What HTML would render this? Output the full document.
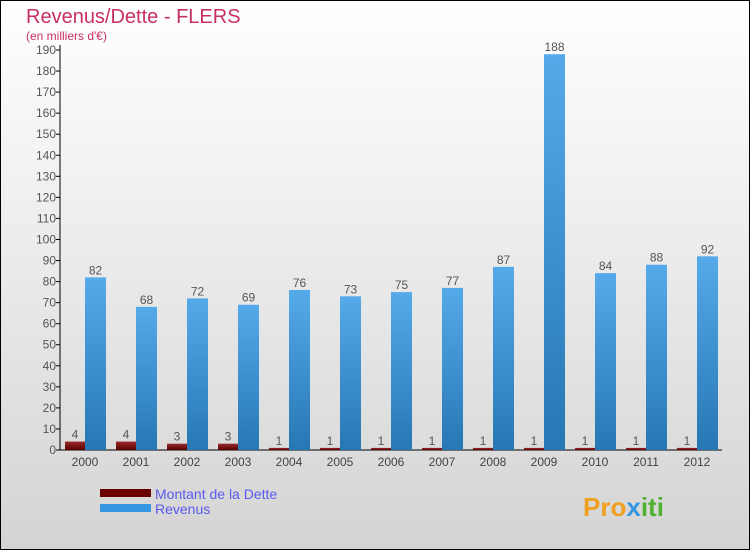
<!DOCTYPE html>
<html><head><meta charset="utf-8"><style>
body{margin:0;}
#chart{position:relative;width:750px;height:550px;}
text{font-family:"Liberation Sans",sans-serif;}
</style></head><body>
<div id="chart">
<svg id="svg" width="750" height="550" xmlns="http://www.w3.org/2000/svg">
<defs>
<linearGradient id="bg" x1="0" y1="0" x2="0" y2="1"><stop offset="0" stop-color="#ffffff"/><stop offset="1" stop-color="#d4d4d4"/></linearGradient>
<linearGradient id="gb" x1="0" y1="0" x2="0" y2="1"><stop offset="0" stop-color="#55aaea"/><stop offset="1" stop-color="#2677b4"/></linearGradient>
<linearGradient id="gr" x1="0" y1="0" x2="0" y2="1"><stop offset="0" stop-color="#9a2a2a"/><stop offset="1" stop-color="#5a0000"/></linearGradient>
</defs>
<rect x="0.5" y="0.5" width="749" height="549" fill="url(#bg)" stroke="#000" stroke-width="1"/>
<text x="26" y="23" font-size="20" fill="#c8305f">Revenus/Dette - FLERS</text>
<text x="26" y="40" font-size="12" fill="#c8305f">(en milliers d'€)</text>
<g id="axes"></g>
<g id="bars"></g>
<rect x="100" y="489" width="51" height="8" fill="#6a0000"/>
<text x="155" y="499" font-size="14" fill="#5a5af0">Montant de la Dette</text>
<rect x="100" y="504" width="51" height="8" fill="#3497e0"/>
<text x="155" y="514" font-size="14" fill="#5a5af0">Revenus</text>
<text x="583" y="516" font-size="26" font-weight="bold" fill="#f0a020">Pro<tspan fill="#3497e0">x</tspan><tspan fill="#50b030">iti</tspan></text>
</svg>
</div>
<script>
const categories=["2000","2001","2002","2003","2004","2005","2006","2007","2008","2009","2010","2011","2012"];
const dette=[4,4,3,3,1,1,1,1,1,1,1,1,1];
const revenus=[82,68,72,69,76,73,75,77,87,188,84,88,92];
const yTicks=[0,10,20,30,40,50,60,70,80,90,100,110,120,130,140,150,160,170,180,190];
const NS="http://www.w3.org/2000/svg";
const y0=450,yTop=50,yMax=190,x0=60,step=51,first=85;
const y=v=>y0-(v/yMax)*(y0-yTop);
const xc=i=>first+i*step;
function mk(t,a,p){const e=document.createElementNS(NS,t);for(const k in a)e.setAttribute(k,a[k]);p.appendChild(e);return e;}
const ax=document.getElementById('axes'),bs=document.getElementById('bars');
const yl=mk('line',{x1:x0,y1:yTop-5,x2:x0,y2:y0,stroke:'#000'},ax);


const xl=mk('line',{x1:x0,y1:y0,x2:722,y2:y0,stroke:'#000'},ax);


yTicks.forEach(v=>{
 mk('line',{x1:x0-4,y1:y(v),x2:x0,y2:y(v),stroke:'#000'},ax);
 const t=mk('text',{x:x0-4,y:y(v)+4,'text-anchor':'end','font-size':12,fill:'#555'},ax);t.textContent=v;
 
 
});
categories.forEach((c,i)=>{
 const cx=xc(i);
 const t=mk('text',{x:cx,y:466,'text-anchor':'middle','font-size':12,fill:'#444'},ax);t.textContent=c;
 
 
 const b1=mk('rect',{x:cx-20,y:y(dette[i]),width:20,height:y0-y(dette[i]),fill:'url(#gr)'},bs);
 
 
 const l1=mk('text',{x:cx-10,y:y(dette[i])-3,'text-anchor':'middle','font-size':12,fill:'#555'},bs);l1.textContent=dette[i];
 
 
 const b2=mk('rect',{x:cx,y:y(revenus[i]),width:21,height:y0-y(revenus[i]),fill:'url(#gb)'},bs);
 
 
 const l2=mk('text',{x:cx+10.5,y:y(revenus[i])-3,'text-anchor':'middle','font-size':12,fill:'#555'},bs);l2.textContent=revenus[i];
 
 
});
</script>
</body></html>
